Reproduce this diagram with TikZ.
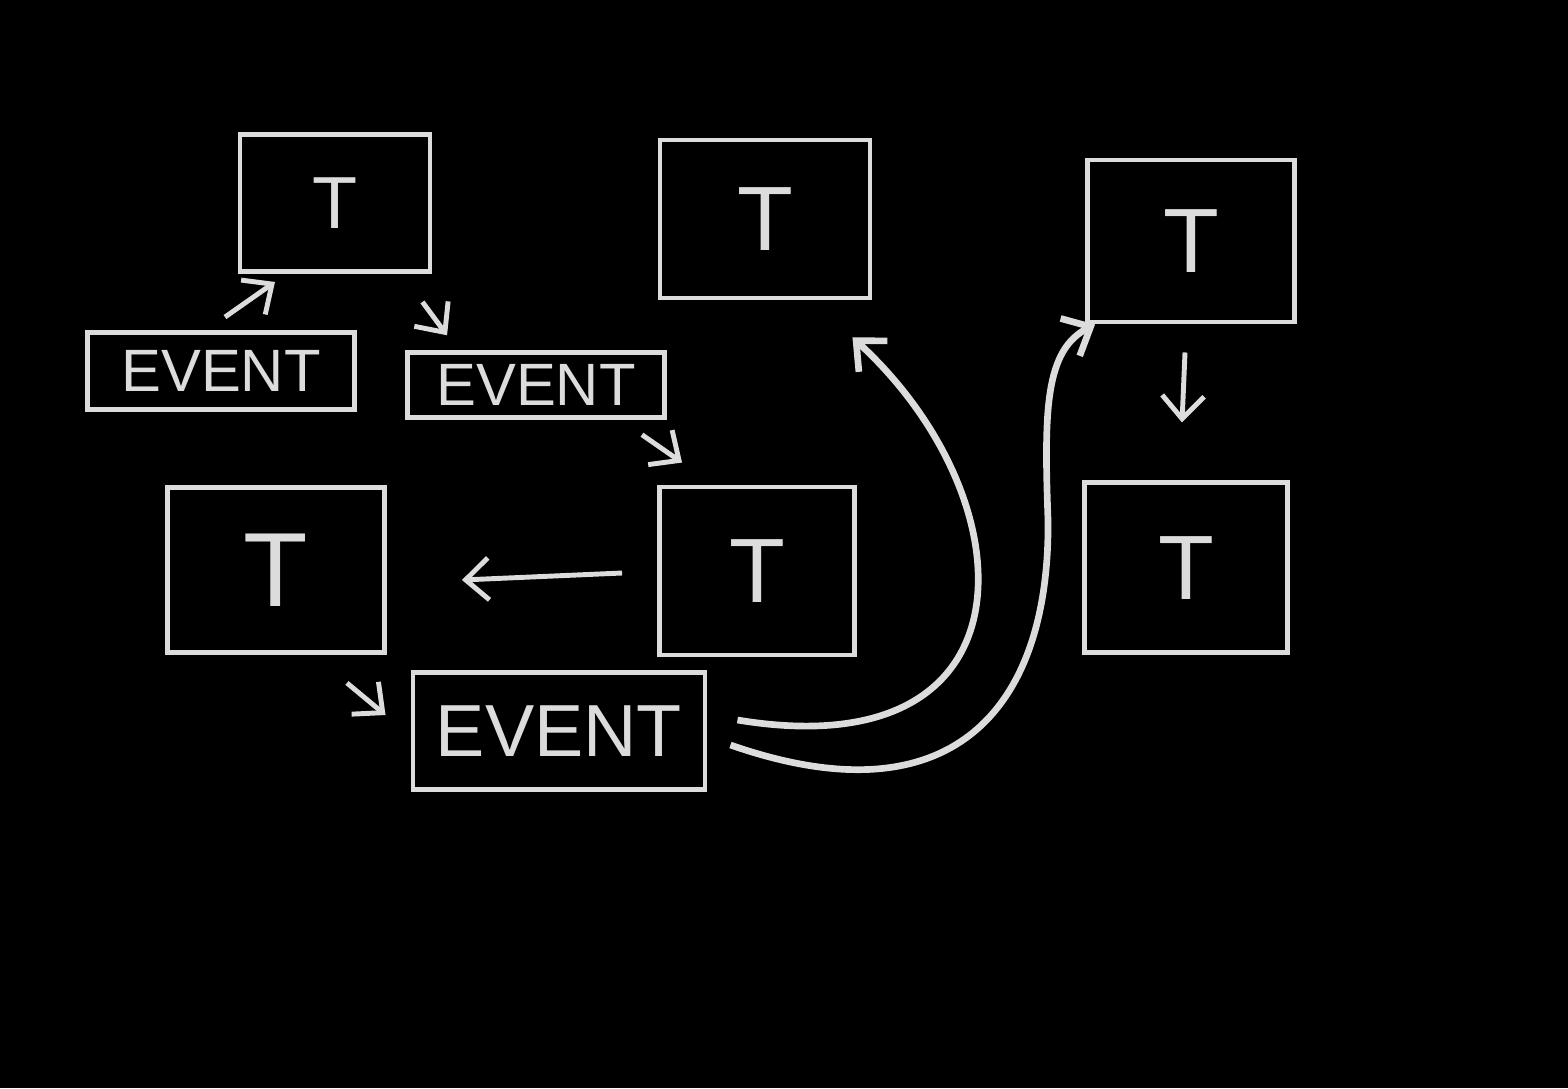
\documentclass[tikz,border=0pt]{standalone}
\usepackage{fontspec}
\setmainfont{Liberation Sans}
\usepackage{tikz}
\usetikzlibrary{arrows.meta,positioning,calc}
\definecolor{chalk}{HTML}{DCDCDC}
\definecolor{board}{HTML}{000000}

\begin{document}
\begin{tikzpicture}[every node/.style={text=chalk}, tbox/.style={draw=chalk, line width=1.4pt, minimum width=20mm, minimum height=16mm, font=\fontsize{26}{28}\selectfont}, evbox/.style={draw=chalk, line width=1.4pt, minimum width=26mm, minimum height=7mm, font=\fontsize{17}{19}\selectfont}, arr/.style={-{Straight Barb[length=2.3mm,width=4.2mm]}, line width=1.4pt, chalk}]
\fill[board] (0,0) rectangle (15.68,-10.88);
\useasboundingbox (0,0) rectangle (15.68,-10.88);
\node[tbox,minimum width=19mm,minimum height=13.7mm,font=\fontsize{21}{23}\selectfont] (t1) at (3.35,-2.03) {T};
\node[evbox,minimum width=26.7mm,minimum height=7.7mm] (e1) at (2.21,-3.71) {EVENT};
\node[evbox,minimum width=25.7mm,minimum height=6mm] (e2) at (5.36,-3.85) {EVENT};
\node[tbox,minimum width=21mm,minimum height=15.8mm] (t2) at (7.65,-2.19) {T};
\node[tbox,minimum width=20.7mm,minimum height=16.2mm] (t3) at (11.91,-2.41) {T};
\node[tbox,minimum width=20.3mm,minimum height=17mm,below=15.6mm of t3,xshift=-0.5mm] (t4) {T};
\node[tbox,minimum width=21.7mm,minimum height=16.5mm,font=\fontsize{30}{32}\selectfont] (t5) at (2.76,-5.70) {T};
\node[tbox,minimum width=19.5mm,minimum height=16.8mm] (t6) at (7.57,-5.71) {T};
\node[evbox,minimum width=29.2mm,minimum height=11.7mm,font=\fontsize{21}{23}\selectfont] (e3) at (5.59,-7.31) {EVENT};
\draw[arr] ([xshift=0.4mm,yshift=1.3mm]e1.north)--([xshift=-6mm,yshift=-0.8mm]t1.south);
\draw[arr] ([xshift=-1mm,yshift=-2.8mm]t1.south east)--([xshift=4.2mm,yshift=1.5mm]e2.north west);
\draw[arr] ([xshift=-2.5mm,yshift=-1.5mm]e2.south east)--([xshift=2.5mm,yshift=2.2mm]t6.north west);
\draw[arr] ([xshift=-3.5mm,yshift=-0.2mm]t6.west)--([xshift=7.5mm,yshift=-1mm]t5.east);
\draw[arr] ([xshift=-4mm,yshift=-2.8mm]t5.south east)--([xshift=-2.5mm,yshift=1.6mm]e3.west);
\draw[arr] ([xshift=-0.6mm,yshift=-2.8mm]t3.south)--([xshift=-0.4mm,yshift=5.8mm]t4.north);
\draw[arr,line width=1.9pt] ([xshift=3mm,yshift=1.1mm]e3.east) .. controls (10.4,-7.7) and (10.3,-5.0) .. ([xshift=-2mm,yshift=-3.7mm]t2.south east);
\draw[arr,line width=1.9pt] ([xshift=2.3mm,yshift=-1.4mm]e3.east) .. controls (9.6,-8.25) and (10.5,-7.0) .. (10.48,-5.2) .. controls (10.44,-4.1) and (10.45,-3.5) .. ([xshift=1mm]t3.south west);
\end{tikzpicture}
\end{document}
